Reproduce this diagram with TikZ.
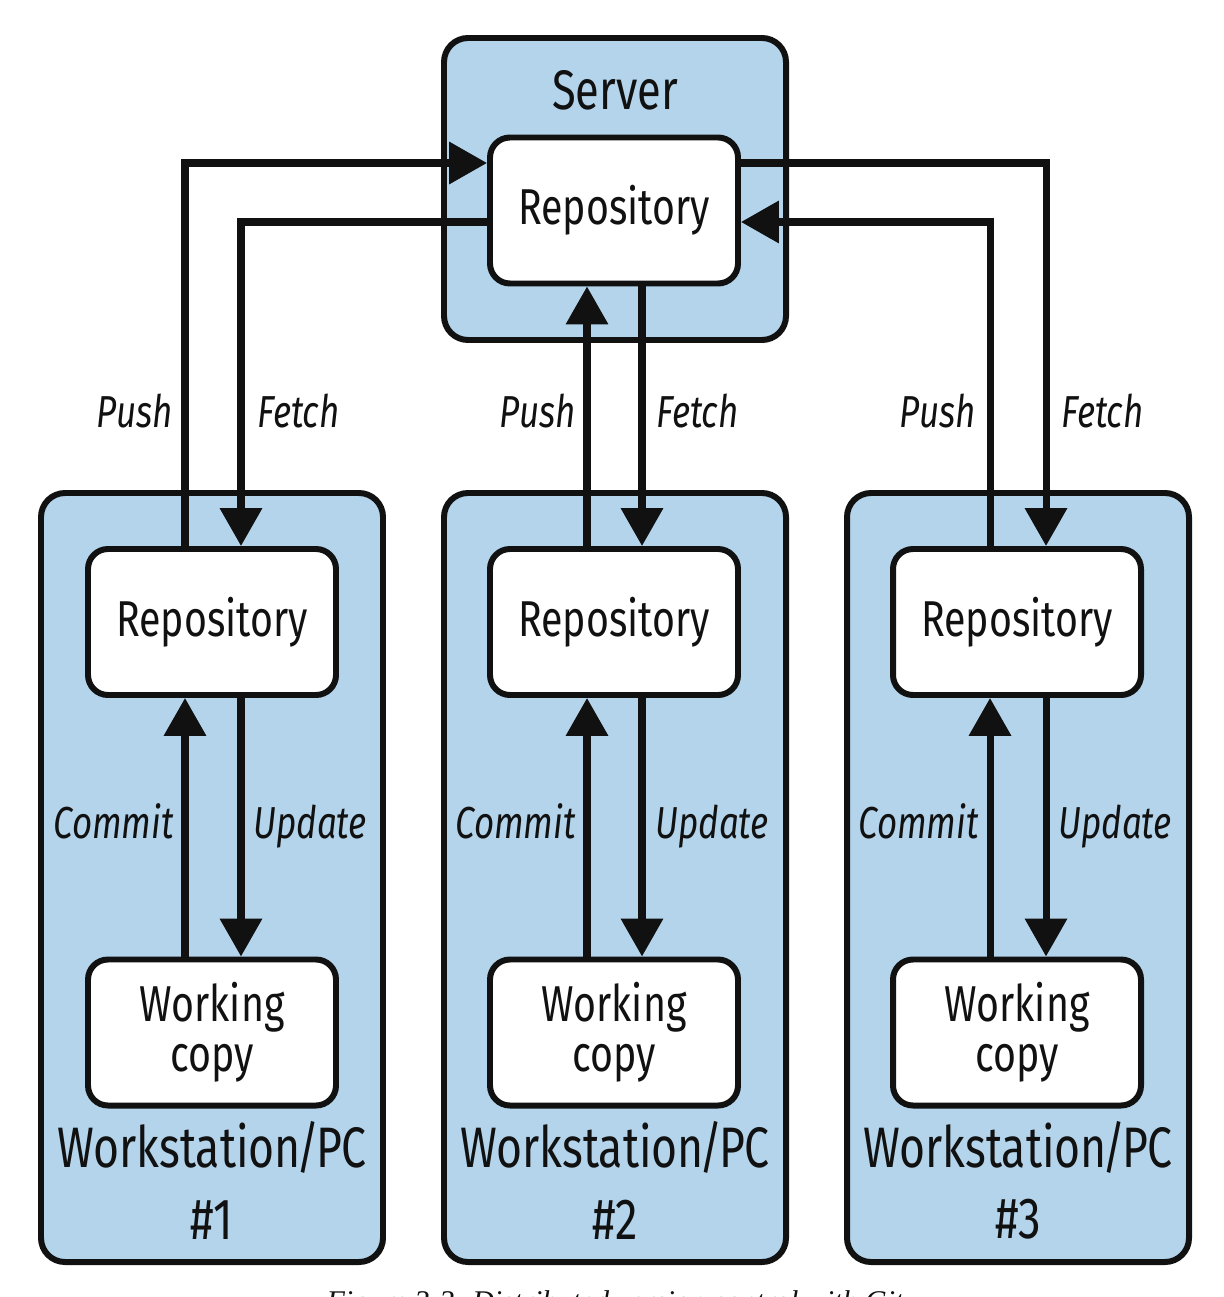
\documentclass[tikz,border=0pt]{standalone}
\usepackage{fontspec}
\setmainfont{Fira Sans}[FakeStretch=0.78]
\newfontfamily\capfont{Liberation Serif}
\usetikzlibrary{arrows.meta,calc}
\newlength\upx
\setlength\upx{0.02cm}
\definecolor{wsblue}{HTML}{B3D4EB}
\definecolor{ink}{HTML}{111111}
\newcommand{\wslabel}[1]{Workstation\kern-0.07em/\kern-0.07em PC\\\fontsize{33}{41}\selectfont\##1}
\tikzset{
  outerbox/.style={draw=ink, line width=3.4pt, fill=wsblue, rounded corners=24\upx,
    inner sep=0pt, minimum width=342\upx},
  innerbox/.style={draw=ink, line width=3.4pt, fill=white, rounded corners=20\upx,
    inner sep=0pt, minimum width=248\upx, minimum height=146\upx, align=center,
    text=ink, font=\fontsize{28.7}{28.5}\selectfont},
  titlelbl/.style={inner sep=0pt, text=ink, align=center, font=\fontsize{31.7}{40.8}\selectfont},
  wslbl/.style={inner sep=0pt, text=ink, align=center, font=\fontsize{32.5}{40.8}\selectfont},
  arrlbl/.style={inner sep=0pt, text=ink, font=\itshape\fontsize{25.5}{27}\selectfont},
  conn/.style={draw=ink, line width=4pt, -{Triangle[width=0.82cm,length=0.76cm]}},
}
\begin{document}
\begin{tikzpicture}[x=0.02cm,y=-0.02cm]
\useasboundingbox (0,0) rectangle (1223,1297);
\clip (0,0) rectangle (1223,1297);
% outer containers
\node[outerbox, minimum height=302\upx] (server) at (615,189) {};
\node[outerbox, minimum height=769\upx] (ws1) at (212,877.5) {};
\node[outerbox, minimum height=769\upx] (ws2) at (615,877.5) {};
\node[outerbox, minimum height=769\upx] (ws3) at (1018,877.5) {};
% titles
\node[titlelbl, anchor=base] (servert) at (615,110) {Server};
\node[wslbl, anchor=south] (ws1t) at (212,1240) {\wslabel{1}};
\node[wslbl, anchor=south] (ws2t) at (615,1240) {\wslabel{2}};
\node[wslbl, anchor=south] (ws3t) at (1018,1240) {\wslabel{3}};
% inner boxes
\node[innerbox] (srepo) at (614,210.5) {Repository};
\node[innerbox] (r1) at (212,622) {Repository};
\node[innerbox] (r2) at (614,622) {Repository};
\node[innerbox] (r3) at (1017,622) {Repository};
\node[innerbox] (w1) at (212,1032.5) {Working\\copy};
\node[innerbox] (w2) at (614,1032.5) {Working\\copy};
\node[innerbox] (w3) at (1017,1032.5) {Working\\copy};
% server side connection points
\coordinate (sL1) at ($(srepo.west)+(0,-47.5)$);
\coordinate (sL2) at ($(srepo.west)+(0,11.5)$);
\coordinate (sR1) at ($(srepo.east)+(0,-47.5)$);
\coordinate (sR2) at ($(srepo.east)+(0,11.5)$);
% push / fetch
\draw[conn] ($(r1.north)+(-27,0)$) |- (sL1);
\draw[conn] (sL2) -| ($(r1.north)+(29,0)$);
\draw[conn] ($(r2.north)+(-27,0)$) -- ($(srepo.south)+(-27,0)$);
\draw[conn] ($(srepo.south)+(28,0)$) -- ($(r2.north)+(28,0)$);
\draw[conn] (sR1) -| ($(r3.north)+(29,0)$);
\draw[conn] ($(r3.north)+(-27,0)$) |- (sR2);
% commit / update
\draw[conn] ($(w1.north)+(-27,0)$) -- ($(r1.south)+(-27,0)$);
\draw[conn] ($(r1.south)+(29,0)$) -- ($(w1.north)+(29,0)$);
\draw[conn] ($(w2.north)+(-27,0)$) -- ($(r2.south)+(-27,0)$);
\draw[conn] ($(r2.south)+(28,0)$) -- ($(w2.north)+(28,0)$);
\draw[conn] ($(w3.north)+(-27,0)$) -- ($(r3.south)+(-27,0)$);
\draw[conn] ($(r3.south)+(29,0)$) -- ($(w3.north)+(29,0)$);
% labels
\node[arrlbl, anchor=base east] (lp1) at (173,427) {Push};
\node[arrlbl, anchor=base west] (lf1) at (257,427) {Fetch};
\node[arrlbl, anchor=base east] (lp2) at (576,427) {Push};
\node[arrlbl, anchor=base west] (lf2) at (656,427) {Fetch};
\node[arrlbl, anchor=base east] (lp3) at (976,427) {Push};
\node[arrlbl, anchor=base west] (lf3) at (1061,427) {Fetch};
\node[arrlbl, anchor=base east] (lc1) at (174,838) {Commit};
\node[arrlbl, anchor=base west] (lu1) at (253,838) {Update};
\node[arrlbl, anchor=base east] (lc2) at (576,838) {Commit};
\node[arrlbl, anchor=base west] (lu2) at (655,838) {Update};
\node[arrlbl, anchor=base east] (lc3) at (979,838) {Commit};
\node[arrlbl, anchor=base west] (lu3) at (1058,838) {Update};
% caption (cut off at the bottom edge, as in the reference)
\node[inner sep=0pt, text=ink, anchor=base, font=\capfont\itshape\fontsize{17.1}{20}\selectfont] (cap) at (615,1311) {Figure 3-3. Distributed version control with Git};
\end{tikzpicture}
\end{document}
